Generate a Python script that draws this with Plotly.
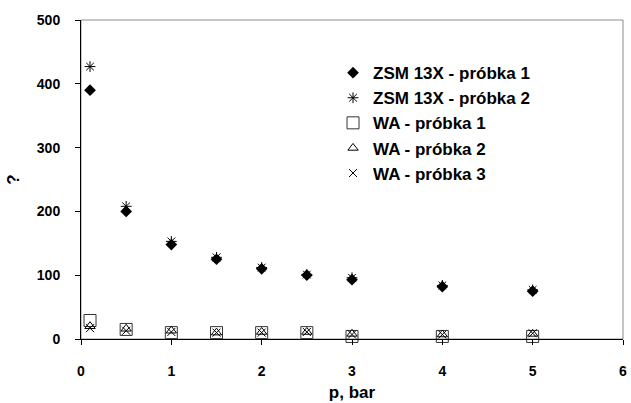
import plotly.graph_objects as go

pressure = [0.1, 0.5, 1, 1.5, 2, 2.5, 3, 4, 5]
zsm_1 = [390, 200, 148, 125, 110, 100, 93, 82, 75]
zsm_2 = [427, 208, 153, 128, 112, 101, 96, 84, 77]
wa_1 = [29, 15, 10, 10, 10, 10, 4, 4, 4]
wa_2 = [20, 16, 13, 10, 11, 11, 8, 7, 8]
wa_3 = [17, 13, 11, 10, 10, 11, 7, 7, 9]

names = ["ZSM 13X - próbka 1", "ZSM 13X - próbka 2", "WA - próbka 1",
         "WA - próbka 2", "WA - próbka 3"]
x_ticks = [0, 1, 2, 3, 4, 5, 6]
y_ticks = [0, 100, 200, 300, 400, 500]

FONT = "Liberation Sans, Arial, sans-serif"

fig = go.Figure()
styles = [
    dict(symbol="diamond", size=9, color="black", line=dict(width=0)),
    dict(symbol="asterisk-open", size=9, color="black", line=dict(width=1, color="black")),
    dict(symbol="square-open", size=12, color="#333", line=dict(width=1, color="#333")),
    dict(symbol="triangle-up-open", size=9, color="black", line=dict(width=1, color="black")),
    dict(symbol="x-thin-open", size=8, color="black", line=dict(width=1, color="black")),
]
for name, ys, st in zip(names, [zsm_1, zsm_2, wa_1, wa_2, wa_3], styles):
    fig.add_trace(go.Scatter(x=pressure, y=ys, mode="markers", name=name,
                             marker=st, cliponaxis=False))

fig.update_layout(
    width=631, height=403,
    margin=dict(l=81, r=4, t=20, b=63),
    paper_bgcolor="white", plot_bgcolor="white",
    font=dict(family=FONT, color="black"),
    showlegend=True,
    legend=dict(x=0.465, y=0.89, xanchor="left", yanchor="top",
                bgcolor="rgba(0,0,0,0)",
                font=dict(family=FONT, size=17, color="black", weight="bold")),
    shapes=[dict(type="rect", xref="paper", yref="paper", x0=0, y0=0, x1=1, y1=1,
                 line=dict(color="#8c8c8c", width=1), layer="below")],
)
fig.update_xaxes(range=[0, 6], tickvals=x_ticks, ticktext=[str(v) for v in x_ticks],
                 showgrid=False, zeroline=False, showline=True, linecolor="black", linewidth=1,
                 ticks="outside", ticklen=5, tickcolor="black", ticklabelstandoff=14,
                 ticklabeloverflow="allow",
                 tickfont=dict(family=FONT, size=14, weight="bold"),
                 title=dict(text="p, bar", standoff=8,
                            font=dict(family=FONT, size=17, weight="bold")))
fig.update_yaxes(range=[0, 500], tickvals=y_ticks, ticktext=[str(v) for v in y_ticks],
                 showgrid=False, zeroline=False, showline=True, linecolor="black", linewidth=1,
                 ticks="outside", ticklen=5, tickcolor="black", ticklabelstandoff=12,
                 ticklabeloverflow="allow",
                 tickfont=dict(family=FONT, size=14, weight="bold"),
                 title=dict(text="?", standoff=12,
                            font=dict(family=FONT, size=17, weight="bold")))

fig.write_html("out.html")
